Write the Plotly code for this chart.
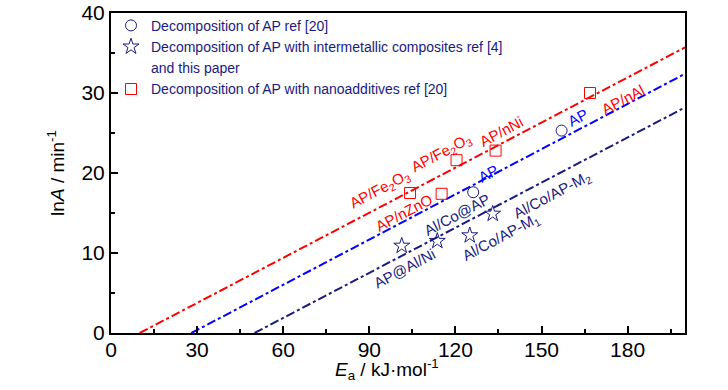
import plotly.graph_objects as go

# ---- data ----
ap_x = [126.2, 157.0]
ap_y = [17.6, 25.3]

inter_x = [101.3, 113.7, 125.0, 133.0]
inter_y = [10.9, 11.5, 12.2, 14.9]

nano_x = [104.2, 115.2, 120.4, 134.0, 166.9]
nano_y = [17.5, 17.4, 21.6, 22.8, 30.0]

line_red_x = [10, 200]
line_red_y = [0, 35.7]
line_blue_x = [28, 200]
line_blue_y = [0, 32.4]
line_navy_x = [50, 200]
line_navy_y = [0, 28.2]

label_text = ["AP/Fe<sub>2</sub>O<sub>3</sub>", "AP/Fe<sub>2</sub>O<sub>3</sub>", "AP/nNi", "AP/nAl", "AP/nZnO",
              "AP", "AP",
              "Al/Co@AP", "AP@Al/Ni", "Al/Co/AP-M<sub>1</sub>", "Al/Co/AP-M<sub>2</sub>"]
label_x = [93.7, 115.0, 135.9, 178.3, 102.1, 162.7, 131.3, 120.5, 102.1, 135.9, 153.6]
label_y = [18.0, 22.4, 25.2, 29.2, 15.1, 26.9, 20.0, 14.8, 8.1, 11.9, 17.2]
label_group = ["red"] * 5 + ["blue"] * 2 + ["navy"] * 4

x_ticks = [0, 30, 60, 90, 120, 150, 180]
y_ticks = [0, 10, 20, 30, 40]

RED = "#ff0000"
BLUE = "#0000ff"
NAVY = "#1a1a80"
colors = {"red": RED, "blue": BLUE, "navy": NAVY}
FONT = "Liberation Sans, Arial"

fig = go.Figure()

for lx, ly, c in [(line_red_x, line_red_y, RED), (line_blue_x, line_blue_y, BLUE),
                  (line_navy_x, line_navy_y, NAVY)]:
    fig.add_trace(go.Scatter(x=lx, y=ly, mode="lines", showlegend=False,
                             line=dict(color=c, width=2, dash="dashdot"), hoverinfo="skip"))

fig.add_trace(go.Scatter(x=ap_x, y=ap_y, mode="markers", name="Decomposition of AP ref [20]",
                         marker=dict(symbol="circle-open", size=11, color=NAVY, line=dict(width=1))))
fig.add_trace(go.Scatter(x=inter_x, y=inter_y, mode="markers",
                         name="Decomposition of AP with intermetallic composites ref [4]",
                         marker=dict(symbol="star-open", size=12, color=NAVY, line=dict(width=1))))
fig.add_trace(go.Scatter(x=[None], y=[None], mode="markers", name="and this paper",
                         marker=dict(size=1, color="rgba(0,0,0,0)", line=dict(width=0)),
                         hoverinfo="skip"))
fig.add_trace(go.Scatter(x=nano_x, y=nano_y, mode="markers",
                         name="Decomposition of AP with nanoadditives ref [20]",
                         marker=dict(symbol="square-open", size=11, color=RED, line=dict(width=1))))

for t, x, y, g in zip(label_text, label_x, label_y, label_group):
    fig.add_annotation(x=x, y=y, text=t, showarrow=False, textangle=-28,
                       font=dict(family=FONT, size=15, color=colors[g]))

# x-axis title placed as paper annotation to match reference position
fig.add_annotation(x=0.48, y=-0.115, xref="paper", yref="paper", showarrow=False,
                   text="<i>E</i><sub>a</sub> / kJ·mol<sup>-1</sup>",
                   font=dict(family=FONT, size=19, color="black"), yanchor="middle")

axis_common = dict(showline=True, linecolor="black", linewidth=2, mirror=True,
                   ticks="inside", ticklen=7, tickwidth=2, tickcolor="black",
                   showgrid=False, zeroline=False, automargin=False,
                   tickfont=dict(family=FONT, size=21, color="black"))

fig.update_xaxes(range=[0, 200], tickvals=x_ticks, ticktext=[str(v) for v in x_ticks],
                 minor=dict(dtick=15, tick0=0, ticks="inside", ticklen=4, tickwidth=2, tickcolor="black"),
                 ticklabelstandoff=-3,
                 **axis_common)
fig.update_yaxes(range=[0, 40], tickvals=y_ticks, ticktext=[str(v) for v in y_ticks],
                 minor=dict(dtick=5, tick0=0, ticks="inside", ticklen=4, tickwidth=2, tickcolor="black"),
                 title=dict(text="ln<i>A</i> / min<sup>-1</sup>",
                            font=dict(family=FONT, size=19, color="black"), standoff=12),
                 **axis_common)

fig.update_layout(
    width=728, height=390,
    margin=dict(l=111, r=43, t=13, b=57, autoexpand=False),
    plot_bgcolor="white", paper_bgcolor="white",
    font=dict(family=FONT, color=NAVY),
    legend=dict(x=0.0, y=1.01, xanchor="left", yanchor="top", bgcolor="rgba(0,0,0,0)",
                font=dict(family=FONT, size=14, color=NAVY), tracegroupgap=0, itemwidth=30),
)

fig.write_html("out.html", config={"displayModeBar": False},
               post_script="document.body.style.margin='0';")
